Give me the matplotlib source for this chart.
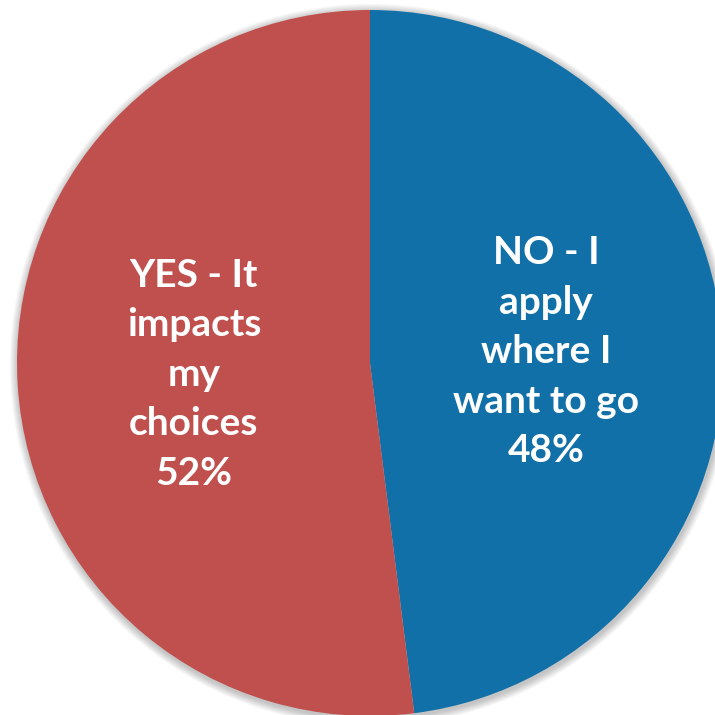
import matplotlib.pyplot as plt
from matplotlib.patches import Circle

# survey answers, clockwise from 12 o'clock
labels = ['NO - I\napply\nwhere I\nwant to go', 'YES - It\nimpacts\nmy\nchoices']
values = [48, 52]
colors = ['#1170A8', '#C0504D']

W = H = 715
cx, cy, r = 370, H - 363, 353

fig = plt.figure(figsize=(7.15, 7.15), dpi=100)
ax = fig.add_axes([0, 0, 1, 1])
ax.set_xlim(0, W)
ax.set_ylim(0, H)
ax.set_aspect('equal')
ax.axis('off')

# soft glow-ish shadow around the pie
for i in range(10):
    ax.add_patch(Circle((cx + 1, cy - 2), r + 1 + i * 0.8, color='black',
                        alpha=0.025, lw=0, zorder=0))

tot = sum(values)
texts = ['{}\n{:.0f}%'.format(l, 100 * v / tot) for l, v in zip(labels, values)]
wedges, txts = ax.pie(values, labels=texts, colors=colors, startangle=90,
                      counterclock=False, center=(cx, cy), radius=r,
                      labeldistance=0.5, frame=True,
                      wedgeprops=dict(linewidth=0, zorder=1),
                      textprops=dict(color='white', fontsize=28, fontweight='bold',
                                     family=['Lato', 'DejaVu Sans'],
                                     ha='center', va='center', linespacing=1.5))
ax.set_xlim(0, W)
ax.set_ylim(0, H)
ax.axis('off')

plt.savefig('out.png', dpi=100)
